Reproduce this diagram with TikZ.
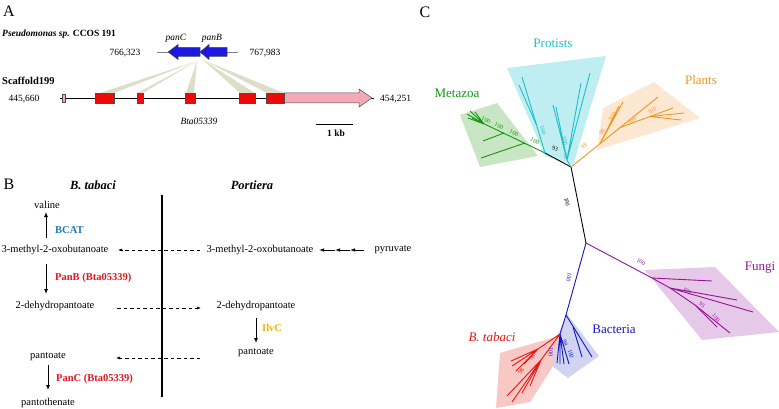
\documentclass[tikz,border=0pt]{standalone}
\usepackage{fontspec}
\setmainfont{Liberation Serif}
\usetikzlibrary{arrows.meta}
\definecolor{genblue}{RGB}{25,25,225}
\definecolor{genred}{RGB}{235,10,10}
\definecolor{genpink}{RGB}{245,168,182}
\definecolor{fan}{RGB}{214,214,186}
\definecolor{bcat}{RGB}{30,120,180}
\definecolor{ilvc}{RGB}{240,180,0}
\definecolor{enzred}{RGB}{230,20,30}
\definecolor{tgreen}{RGB}{20,150,20}
\definecolor{fgreen}{RGB}{200,230,195}
\definecolor{tcyan}{RGB}{30,190,200}
\definecolor{fcyan}{RGB}{190,238,242}
\definecolor{torange}{RGB}{240,150,30}
\definecolor{forange}{RGB}{252,232,210}
\definecolor{tpurple}{RGB}{150,20,150}
\definecolor{fpurple}{RGB}{230,200,232}
\definecolor{tblue}{RGB}{20,20,200}
\definecolor{fblue}{RGB}{208,212,240}
\definecolor{tred}{RGB}{235,20,20}
\definecolor{fred}{RGB}{248,200,196}
\tikzset{
  lbl/.style={inner sep=0pt, font=\fontsize{9.5}{10}\selectfont},
  blbl/.style={inner sep=0pt, font=\fontsize{10.5}{11}\selectfont},
  hdr/.style={inner sep=0pt, font=\fontsize{12.5}{13}\selectfont\bfseries\itshape},
  enz/.style={inner sep=0pt, anchor=west, font=\fontsize{10.5}{11}\selectfont\bfseries},
  panel/.style={inner sep=0pt, font=\fontsize{16}{16}\selectfont},
  grp/.style={inner sep=0pt, font=\fontsize{13}{13}\selectfont},
  bs/.style={inner sep=0pt, font=\fontsize{6}{6}\selectfont},
  gene/.style={draw=black!70, line width=0.5pt},
  darr/.style={dash pattern=on 3.5pt off 3pt, line width=0.6pt, -{Latex[length=4pt,width=3pt]}},
  sarr/.style={line width=0.9pt, -{Latex[length=5pt,width=4pt]}},
  tr/.style={line width=0.9pt},
}
\begin{document}
\begin{tikzpicture}[x=1pt,y=-1pt]
\useasboundingbox (0,0) rectangle (779,409);
% ---------- panel letters
\node[panel] (lA) at (9,11) {A};
\node[panel] (lB) at (9,184) {B};
\node[panel] (lC) at (425,12) {C};

% ---------- panel A
\node[lbl, anchor=west, font=\fontsize{9.5}{10}\selectfont\bfseries] (pse) at (2,34) {\textit{Pseudomonas sp.} CCOS 191};
\node[lbl, anchor=west, font=\fontsize{10.5}{10}\selectfont\bfseries] (scf) at (2,81) {Scaffold199};
\node[lbl] (n1) at (125,53) {766,323};
\node[lbl] (n2) at (265,53) {767,983};
\node[lbl] (n3) at (24,99) {445,660};
\node[lbl, anchor=west] (n4) at (380,99) {454,251};
\node[lbl, font=\fontsize{9.5}{10}\selectfont\itshape] (pc) at (176,38) {panC};
\node[lbl, font=\fontsize{9.5}{10}\selectfont\itshape] (pb) at (212,38) {panB};
\node[lbl, font=\fontsize{9.5}{10}\selectfont\itshape] (bta) at (199,121) {Bta05339};
% fan of similarity
\coordinate (apx1) at (197,61);
\coordinate (apx2) at (203,60);
\fill[fan, opacity=0.8] (apx1) -- (100,93) -- (114,93) -- cycle;
\fill[fan, opacity=0.8] (apx1) -- (137,93) -- (143,93) -- cycle;
\fill[fan, opacity=0.8] (apx1) -- (186,93) -- (194,93) -- cycle;
\fill[fan, opacity=0.8] (apx2) -- (240,93) -- (255,93) -- cycle;
\fill[fan, opacity=0.8] (apx2) -- (267,93) -- (284,93) -- cycle;
% pseudomonas locus
\coordinate (gl) at (157,52);
\coordinate (gr) at (238,52);
\draw[gray, line width=0.9pt] (gl) -- (gr);
\filldraw[gene, fill=genblue] (168,52) -- (178,44.5) -- (178,47.5) -- (200,47.5) -- (200,56.5) -- (178,56.5) -- (178,59.5) -- cycle;
\filldraw[gene, fill=genblue] (200,52) -- (209,44.5) -- (209,47.5) -- (227,47.5) -- (227,56.5) -- (209,56.5) -- (209,59.5) -- cycle;
% scaffold
\coordinate (sl) at (60,98);
\coordinate (sr) at (374,98);
\draw[black, line width=0.8pt] (sl) -- (sr);
\filldraw[gene, fill=genpink] (62,94) rectangle (65.5,102.5);
\filldraw[gene, fill=genred] (95,93) rectangle (114,103);
\filldraw[gene, fill=genred] (137,93) rectangle (143,103);
\filldraw[gene, fill=genred] (185,93) rectangle (195,103);
\filldraw[gene, fill=genred] (239,93) rectangle (255,103);
\filldraw[gene, fill=genpink] (284,93) -- (359,93) -- (359,89) -- (372,98) -- (359,107) -- (359,103) -- (284,103) -- cycle;
\filldraw[gene, fill=genred] (266,93) rectangle (284,103);
% scale bar
\coordinate (sb1) at (316,124);
\coordinate (sb2) at (353,124);
\draw[line width=0.8pt] (sb1) -- (sb2);
\node[lbl, font=\fontsize{9.5}{10}\selectfont\bfseries] (kb) at (336,133) {1 kb};

% ---------- panel B
\node[hdr] (hbt) at (93,185) {B. tabaci};
\node[hdr] (hpo) at (252,185) {Portiera};
\coordinate (vt) at (162,195);
\coordinate (vb) at (162,397);
\draw[line width=2pt] (vt) -- (vb);
\node[blbl] (val) at (47,205) {valine};
\node[blbl] (oxl) at (55,250) {3-methyl-2-oxobutanoate};
\node[blbl] (oxr) at (260,250) {3-methyl-2-oxobutanoate};
\node[blbl] (pyr) at (393,250) {pyruvate};
\node[blbl] (dhl) at (55,306) {2-dehydropantoate};
\node[blbl] (dhr) at (256,306) {2-dehydropantoate};
\node[blbl] (ptr) at (256,353) {pantoate};
\node[blbl] (ptl) at (48,357) {pantoate};
\node[blbl] (pth) at (48,403) {pantothenate};
\node[enz, text=bcat] (bcatn) at (55,230) {BCAT};
\node[enz, text=enzred] (panbn) at (55,278) {PanB (Bta05339)};
\node[enz, text=enzred] (pancn) at (56,379) {PanC (Bta05339)};
\node[enz, text=ilvc] (ilvcn) at (262,328) {IlvC};
\coordinate (a1s) at (46,238); \coordinate (a1e) at (46,212);
\draw[sarr] (a1s) -- (a1e);
\coordinate (a2s) at (46,264); \coordinate (a2e) at (46,294);
\draw[sarr] (a2s) -- (a2e);
\coordinate (a3s) at (48,365); \coordinate (a3e) at (48,390);
\draw[sarr] (a3s) -- (a3e);
\coordinate (a4s) at (256,318); \coordinate (a4e) at (256,343);
\draw[sarr] (a4s) -- (a4e);
\coordinate (d1s) at (200,250); \coordinate (d1e) at (118,250);
\draw[darr] (d1s) -- (d1e);
\coordinate (d2s) at (117,308); \coordinate (d2e) at (201,308);
\draw[darr] (d2s) -- (d2e);
\coordinate (d3s) at (200,358); \coordinate (d3e) at (116,358);
\draw[darr] (d3s) -- (d3e);
\coordinate (p1) at (364,250); \coordinate (p2) at (350,250); \coordinate (p3) at (335,250); \coordinate (p4) at (319,250);
\draw[line width=0.8pt, -{Latex[length=5pt,width=3.5pt]}] (p1) -- (p2);
\draw[line width=0.8pt, -{Latex[length=5pt,width=3.5pt]}] (p2) -- (p3);
\draw[line width=0.8pt, -{Latex[length=5pt,width=3.5pt]}] (p3) -- (p4);

% ---------- panel C : clade shading
\fill[fcyan] (507,68) -- (606,56) -- (573,165) -- (545,156) -- cycle;
\fill[fgreen] (460,115) -- (497,103) -- (538,156) -- (480,167) -- cycle;
\fill[forange] (597,150) -- (603,108) -- (654,82) -- (700,118) -- cycle;
\fill[fpurple] (645,270) -- (715,267) -- (779,332) -- (702,340) -- cycle;
\fill[fblue] (567,314) -- (599,356) -- (568,378) -- (552,366) -- (556,340) -- cycle;
\fill[fred] (559,336) -- (552,368) -- (530,402) -- (496,408) -- (500,353) -- cycle;

% tree nodes
\coordinate (T) at (571,167);
\coordinate (L) at (586,243);
\coordinate (M) at (545,153);
\draw[tr, black] (M) -- (T) -- (L);
% Metazoa
\coordinate (gA) at (472,118);
\coordinate (gC) at (484,124);
\coordinate (g1) at (504,133);
\coordinate (g2) at (525,143);
\draw[tr, tgreen] (M) -- (gA);
\draw[tr, tgreen] (gC) -- (467,114) (gC) -- (470,111) (gC) -- (475,112) (gC) -- (468,118);
\draw[tr, tgreen] (g1) -- (483,141);
\draw[tr, tgreen] (g2) -- (481,158);
% Protists
\coordinate (C2) at (567,160);
\coordinate (c1b) at (536.5,125);
\draw[tr, tcyan] (M) -- (522,77);
\draw[tr, tcyan] (c1b) -- (519,85);
\draw[tr, tcyan] (T) -- (C2);
\draw[tr, tcyan] (C2) -- (553,105) (C2) -- (556,107) (C2) -- (590,73) (C2) -- (581,83);
% Plants
\coordinate (oE) at (658,97);
\coordinate (o1) at (600,143.7);
\coordinate (o2) at (620,127.6);
\coordinate (o3) at (650,116.5);
\draw[tr, torange] (T) -- (oE);
\draw[tr, torange] (o1) -- (623,102) (o1) -- (619,106);
\draw[tr, torange] (o2) -- (673,108);
\draw[tr, torange] (o3) -- (684,113) (o3) -- (681,120);
% Fungi
\coordinate (P1) at (652,278);
\coordinate (P2) at (670,288);
\coordinate (P3) at (695,305);
\draw[tr, tpurple] (L) -- (P1) -- (P2) -- (P3) -- (730,333);
\draw[tr, tpurple] (P1) -- (712,281) (P2) -- (737,300) (P2) -- (753,312) (P3) -- (717,327);
% Bacteria
\coordinate (B1) at (566,315);
\coordinate (R) at (560,334);
\coordinate (b3) at (573,327);
\draw[tr, tblue] (L) -- (B1) -- (592,357);
\draw[tr, tblue] (B1) -- (R);
\draw[tr, tblue] (R) -- (557,363) (R) -- (560,364) (R) -- (564,364) (R) -- (569,364) (b3) -- (582,357);
% B. tabaci
\coordinate (r1) at (538,349);
\coordinate (r2) at (541,360);
\draw[tr, tred] (R) -- (r1) (R) -- (r2);
\draw[tr, tred] (r1) -- (511,361) (r1) -- (512,366) (r1) -- (516,371) (r1) -- (524,364);
\draw[tr, tred] (r2) -- (507,396) (r2) -- (512,402) (r2) -- (522,393) (r2) -- (530,386);

% group labels
\node[grp, text=tcyan] (gpr) at (553,43) {Protists};
\node[grp, text=tgreen] (gme) at (457,93) {Metazoa};
\node[grp, text=torange] (gpl) at (701,80) {Plants};
\node[grp, text=tpurple] (gfu) at (760,268) {Fungi};
\node[grp, text=tblue] (gba) at (614,329) {Bacteria};
\node[grp, text=tred, font=\fontsize{13}{13}\selectfont\itshape] (gbt) at (492,337) {B. tabaci};

% bootstrap values
\node[bs, rotate=-78] (s1) at (567,202) {100};
\node[bs, rotate=-20] (s2) at (555,149) {93};
\node[bs, text=tgreen, rotate=-25] (s3) at (486,120) {100};
\node[bs, text=tgreen, rotate=-25] (s4) at (499,126) {100};
\node[bs, text=tgreen, rotate=-25] (s5) at (514,133) {100};
\node[bs, text=tgreen, rotate=-25] (s6) at (535,141) {100};
\node[bs, text=tcyan, rotate=-73] (s7) at (543,130) {100};
\node[bs, text=tcyan, rotate=-82] (s8) at (565,141) {100};
\node[bs, text=tcyan, rotate=-82] (s9) at (566,156) {96};
\node[bs, text=torange, rotate=40] (s10) at (584,146) {98};
\node[bs, text=torange, rotate=55] (s11) at (602,132) {99};
\node[bs, text=torange, rotate=55] (s12) at (612,117) {100};
\node[bs, text=torange, rotate=30] (s13) at (632,121) {100};
\node[bs, text=torange, rotate=30] (s14) at (652,111) {100};
\node[bs, text=tpurple, rotate=-32] (s15) at (641,262) {100};
\node[bs, text=tpurple, rotate=-35] (s16) at (687,291) {100};
\node[bs, text=tpurple, rotate=-40] (s17) at (702,305) {95};
\node[bs, text=tpurple, rotate=-50] (s18) at (716,318) {100};
\node[bs, text=tblue, rotate=-100] (s19) at (569,277) {100};
\node[bs, text=tblue, rotate=-95] (s20) at (551,352) {100};
\node[bs, text=tblue, rotate=-75] (s21) at (565,343) {98};
\node[bs, text=tblue, rotate=-75] (s22) at (571,354) {100};
\node[bs, text=tred, rotate=50] (s23) at (532,357) {98};
\node[bs, text=tred, rotate=50] (s24) at (521,371) {98};
\end{tikzpicture}
\end{document}
